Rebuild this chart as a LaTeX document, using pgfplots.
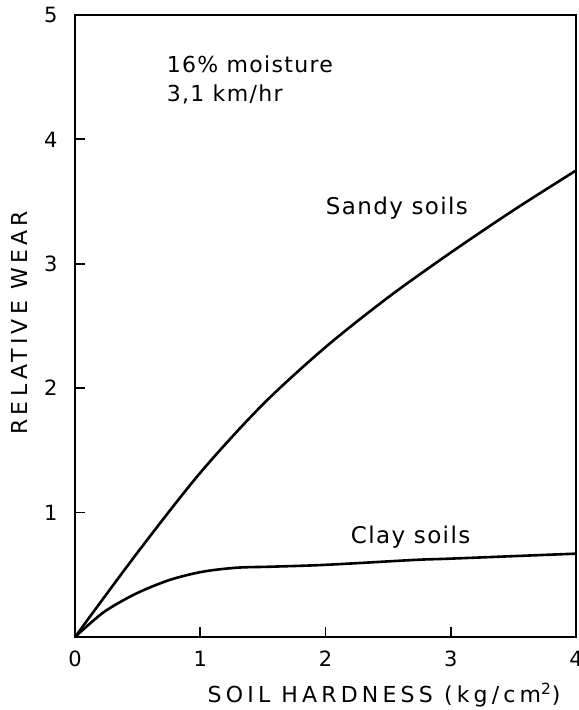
\documentclass[border=0pt]{standalone}
\usepackage{pgfplots}
\pgfplotsset{compat=1.18}
\usepackage{fontspec}
\setmainfont{DejaVu Sans}[LetterSpace=6]
\newfontfamily\labfont{DejaVu Sans}[LetterSpace=19]
\begin{document}
\begin{tikzpicture}
\begin{axis}[
  name=ax,
  scale only axis,
  width=250.5pt, height=311pt,
  xmin=0, xmax=4, ymin=0, ymax=5,
  xtick={0,1,2,3,4}, ytick={1,2,3,4,5},
  tick pos=left,
  tick align=inside,
  major tick length=5pt,
  axis line style={line width=1pt},
  tick style={line width=0.9pt, black},
  /pgf/number format/assume math mode=true,
  tick label style={font=\fontsize{10.5}{12}\selectfont, inner sep=0pt},
  xticklabel style={yshift=-7pt},
  yticklabel style={xshift=-8.5pt},
  label style={font=\labfont\fontsize{11}{13}\selectfont},
  xlabel={SOIL HARDNESS (kg/cm\textsuperscript{2})},
  xlabel style={at={(rel axis cs:0.617,0)}, anchor=north, yshift=-23pt, inner sep=0pt},
  ylabel={RELATIVE WEAR},
  ylabel style={at={(rel axis cs:0,0.505)}, anchor=south, yshift=20pt},
  clip=false,
]
\addplot[black, line width=1.3pt, smooth] coordinates {
 (0,0) (0.5,0.68) (1,1.32) (1.5,1.87) (2,2.33) (2.5,2.73) (3,3.09) (3.5,3.43) (4,3.75)
};
\addplot[black, line width=1.3pt, smooth] coordinates {
 (0,0) (0.23,0.20) (0.49,0.35) (0.76,0.46) (1.02,0.525) (1.29,0.557) (1.56,0.565) (2,0.58) (2.72,0.62) (3,0.63) (4,0.67)
};
\node[anchor=west, font=\fontsize{11}{13}\selectfont, inner sep=0pt] at (axis cs:0.73,4.6) {16\% moisture};
\node[anchor=west, font=\fontsize{11}{13}\selectfont, inner sep=0pt] at (axis cs:0.73,4.36) {3,1 km/hr};
\node[anchor=west, font=\fontsize{11.5}{13}\selectfont, inner sep=0pt] at (axis cs:2.0,3.45) {Sandy soils};
\node[anchor=west, font=\fontsize{11.5}{13}\selectfont, inner sep=0pt] at (axis cs:2.2,0.80) {Clay soils};
\end{axis}
\pgfresetboundingbox
\path ([shift={(-37.5pt,-36.5pt)}]ax.south west) rectangle ([shift={(1.5pt,7.5pt)}]ax.north east);
\end{tikzpicture}
\end{document}
